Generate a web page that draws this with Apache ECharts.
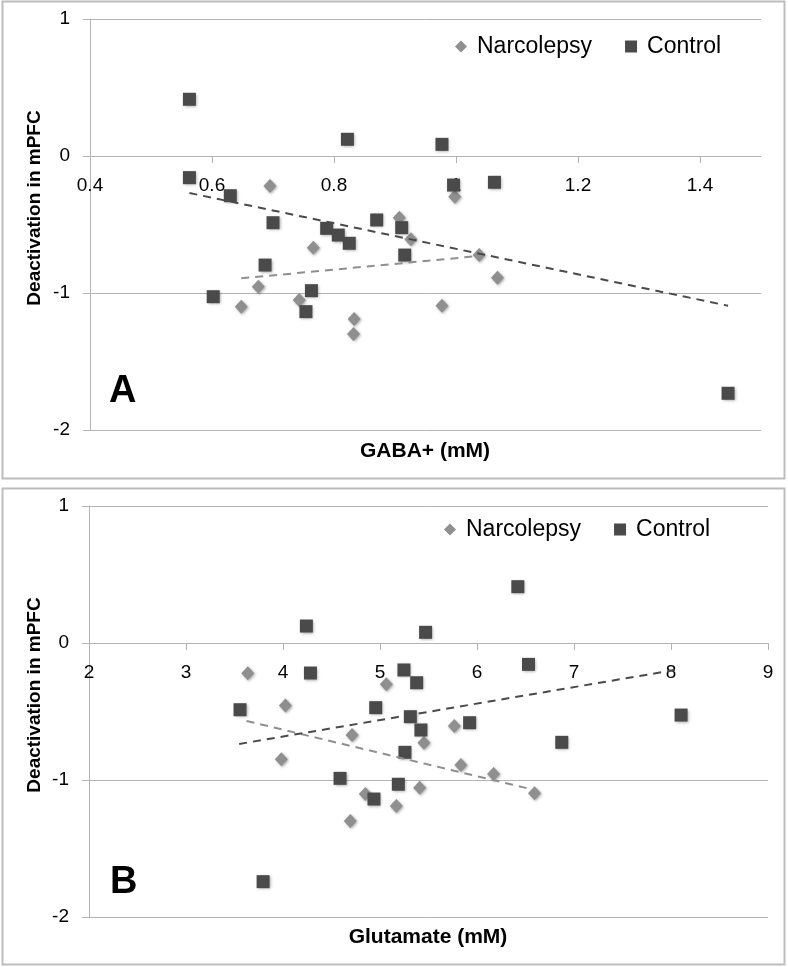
<!DOCTYPE html>
<html>
<head>
<meta charset="utf-8">
<script src="https://cdn.jsdelivr.net/npm/echarts@6/dist/echarts.min.js"></script>
<style>
html,body{margin:0;padding:0;background:#fff;}
#chart{width:788px;height:967px;}
</style>
</head>
<body>
<div id="chart"></div>
<script>
// ---- Panel A: GABA+ ----
var gabaNarcX = [0.695, 0.907, 0.926, 0.766, 1.038, 1.068, 0.676, 0.648, 0.743, 0.833, 0.832, 0.977, 0.998];
var gabaNarcY = [-0.219, -0.450, -0.608, -0.669, -0.723, -0.888, -0.954, -1.100, -1.051, -1.190, -1.299, -1.093, -0.297];
var gabaCtrlX = [0.563, 0.563, 0.630, 0.700, 0.822, 0.788, 0.807, 0.825, 0.870, 0.911, 0.916, 0.687, 0.602, 0.763, 0.754, 0.996, 1.063, 0.977, 1.446];
var gabaCtrlY = [0.414, -0.158, -0.290, -0.487, 0.122, -0.528, -0.577, -0.637, -0.467, -0.523, -0.723, -0.796, -1.027, -0.983, -1.136, -0.212, -0.192, 0.085, -1.732];
var gabaCtrlTrendX = [0.563, 1.446];
var gabaCtrlTrendY = [-0.270, -1.093];
var gabaNarcTrendX = [0.648, 1.042];
var gabaNarcTrendY = [-0.893, -0.728];

// ---- Panel B: Glutamate ----
var gluNarcX = [3.637, 4.025, 5.065, 4.712, 5.766, 5.453, 3.983, 5.834, 6.171, 5.409, 4.849, 5.168, 4.694, 6.593];
var gluNarcY = [-0.221, -0.457, -0.302, -0.672, -0.606, -0.728, -0.849, -0.891, -0.956, -1.056, -1.102, -1.190, -1.299, -1.097];
var gluCtrlX = [4.241, 4.283, 3.557, 4.956, 5.470, 5.247, 5.378, 5.313, 5.422, 5.924, 5.257, 4.588, 5.189, 4.938, 6.421, 6.531, 8.104, 6.874, 3.795];
var gluCtrlY = [0.124, -0.219, -0.487, -0.472, 0.078, -0.197, -0.290, -0.538, -0.635, -0.582, -0.798, -0.988, -1.031, -1.139, 0.411, -0.156, -0.526, -0.725, -1.742];
var gluCtrlTrendX = [3.548, 8.097];
var gluCtrlTrendY = [-0.737, -0.190];
var gluNarcTrendX = [3.624, 6.593];
var gluNarcTrendY = [-0.569, -1.073];

// axis settings / labels
var yMin = -2, yMax = 1, yInterval = 1;
var seriesNames = ['Narcolepsy', 'Control'];
var yAxisTitle = 'Deactivation in mPFC';
var xTitleA = 'GABA+ (mM)';
var xTitleB = 'Glutamate (mM)';
var panelLetters = ['A', 'B'];

function pairs(xs, ys) { return xs.map(function (x, i) { return [x, ys[i]]; }); }

var FONT = '"Liberation Sans", Arial, sans-serif';
var NARC_COLOR = '#8f8f8f';
var CTRL_COLOR = '#4a4a4a';
var GRID_COLOR = '#b3b3b3';
var GRID_H = 411;
var shadow = { shadowBlur: 3, shadowColor: 'rgba(0,0,0,0.35)', shadowOffsetX: 1, shadowOffsetY: 1 };
// x axis sits on y = 0: shift it up from the grid bottom by the pixel distance of 0 above yMin
var zeroOffset = -GRID_H * (0 - yMin) / (yMax - yMin);

function xAxisCfg(gridIndex, min, max, interval, showMax) {
  return {
    type: 'value', gridIndex: gridIndex, min: min, max: max, interval: interval,
    offset: zeroOffset,
    axisLine: { show: true, onZero: false, lineStyle: { color: GRID_COLOR, width: 1 } },
    axisTick: { show: true, length: 7, lineStyle: { color: GRID_COLOR } },
    axisLabel: { color: '#000', fontSize: 19, fontFamily: FONT, margin: 20, showMaxLabel: showMax },
    splitLine: { show: false }
  };
}
function yAxisCfg(gridIndex) {
  return {
    type: 'value', gridIndex: gridIndex, min: yMin, max: yMax, interval: yInterval,
    axisLine: { show: true, onZero: false, lineStyle: { color: GRID_COLOR, width: 1 } },
    axisTick: { show: true, length: 7, lineStyle: { color: GRID_COLOR } },
    axisLabel: { color: '#000', fontSize: 19, fontFamily: FONT, margin: 20 },
    splitLine: { show: true, lineStyle: { color: GRID_COLOR, width: 1 } }
  };
}
function scatter(name, xi, data, symbol, size, color) {
  return {
    type: 'scatter', name: name, xAxisIndex: xi, yAxisIndex: xi, data: data,
    symbol: symbol, symbolSize: size, z: 3,
    itemStyle: Object.assign({ color: color, opacity: 1 }, shadow),
    emphasis: { disabled: true }
  };
}
function trend(name, xi, data, color) {
  return {
    type: 'line', name: name, xAxisIndex: xi, yAxisIndex: xi, data: data,
    symbol: 'none', z: 4, silent: true,
    lineStyle: { color: color, width: 2, type: [8, 6] }
  };
}

var chart = echarts.init(document.getElementById('chart'), null, { renderer: 'canvas' });
chart.setOption({
  animation: false,
  backgroundColor: '#fff',
  textStyle: { fontFamily: FONT },
  grid: [
    { left: 90, top: 19, width: 671, height: GRID_H },
    { left: 89, top: 506, width: 679, height: GRID_H }
  ],
  xAxis: [ xAxisCfg(0, 0.4, 1.5, 0.2, false), xAxisCfg(1, 2, 9, 1, true) ],
  yAxis: [ yAxisCfg(0), yAxisCfg(1) ],
  legend: [
    {
      data: [{ name: seriesNames[0], icon: 'diamond' }, { name: seriesNames[1], icon: 'rect' }],
      left: 450, top: 30, itemWidth: 12, itemHeight: 12, itemGap: 33,
      textStyle: { fontSize: 23, color: '#000', fontFamily: FONT, padding: [0, 0, 0, 5] },
      selectedMode: false
    },
    {
      data: [{ name: seriesNames[0], icon: 'diamond' }, { name: seriesNames[1], icon: 'rect' }],
      left: 439, top: 513, itemWidth: 12, itemHeight: 12, itemGap: 33,
      textStyle: { fontSize: 23, color: '#000', fontFamily: FONT, padding: [0, 0, 0, 5] },
      selectedMode: false
    }
  ],
  series: [
    scatter(seriesNames[0], 0, pairs(gabaNarcX, gabaNarcY), 'diamond', [13, 14], NARC_COLOR),
    scatter(seriesNames[1], 0, pairs(gabaCtrlX, gabaCtrlY), 'rect', 13, CTRL_COLOR),
    trend('NarcTrendA', 0, pairs(gabaNarcTrendX, gabaNarcTrendY), NARC_COLOR),
    trend('CtrlTrendA', 0, pairs(gabaCtrlTrendX, gabaCtrlTrendY), CTRL_COLOR),
    scatter(seriesNames[0], 1, pairs(gluNarcX, gluNarcY), 'diamond', [13, 14], NARC_COLOR),
    scatter(seriesNames[1], 1, pairs(gluCtrlX, gluCtrlY), 'rect', 13, CTRL_COLOR),
    trend('NarcTrendB', 1, pairs(gluNarcTrendX, gluNarcTrendY), NARC_COLOR),
    trend('CtrlTrendB', 1, pairs(gluCtrlTrendX, gluCtrlTrendY), CTRL_COLOR)
  ],
  graphic: [
    { type: 'rect', shape: { x: 2.5, y: 1.5, width: 782, height: 477 }, style: { fill: 'none', stroke: '#bdbdbd', lineWidth: 2 }, silent: true, z: -1 },
    { type: 'rect', shape: { x: 2.5, y: 488.5, width: 782, height: 476 }, style: { fill: 'none', stroke: '#bdbdbd', lineWidth: 2 }, silent: true, z: -1 },
    { type: 'text', x: 35, y: 208, rotation: Math.PI / 2, style: { text: yAxisTitle, font: 'bold 19px ' + FONT, fill: '#000', align: 'center', verticalAlign: 'middle' } },
    { type: 'text', x: 35, y: 695, rotation: Math.PI / 2, style: { text: yAxisTitle, font: 'bold 19px ' + FONT, fill: '#000', align: 'center', verticalAlign: 'middle' } },
    { type: 'text', x: 425, y: 451, style: { text: xTitleA, font: 'bold 21px ' + FONT, fill: '#000', align: 'center', verticalAlign: 'middle' } },
    { type: 'text', x: 428, y: 937, style: { text: xTitleB, font: 'bold 21px ' + FONT, fill: '#000', align: 'center', verticalAlign: 'middle' } },
    { type: 'text', x: 109, y: 392, style: { text: panelLetters[0], font: 'bold 38px ' + FONT, fill: '#000', align: 'left', verticalAlign: 'middle' } },
    { type: 'text', x: 110, y: 883, style: { text: panelLetters[1], font: 'bold 38px ' + FONT, fill: '#000', align: 'left', verticalAlign: 'middle' } }
  ]
});
</script>
</body>
</html>
